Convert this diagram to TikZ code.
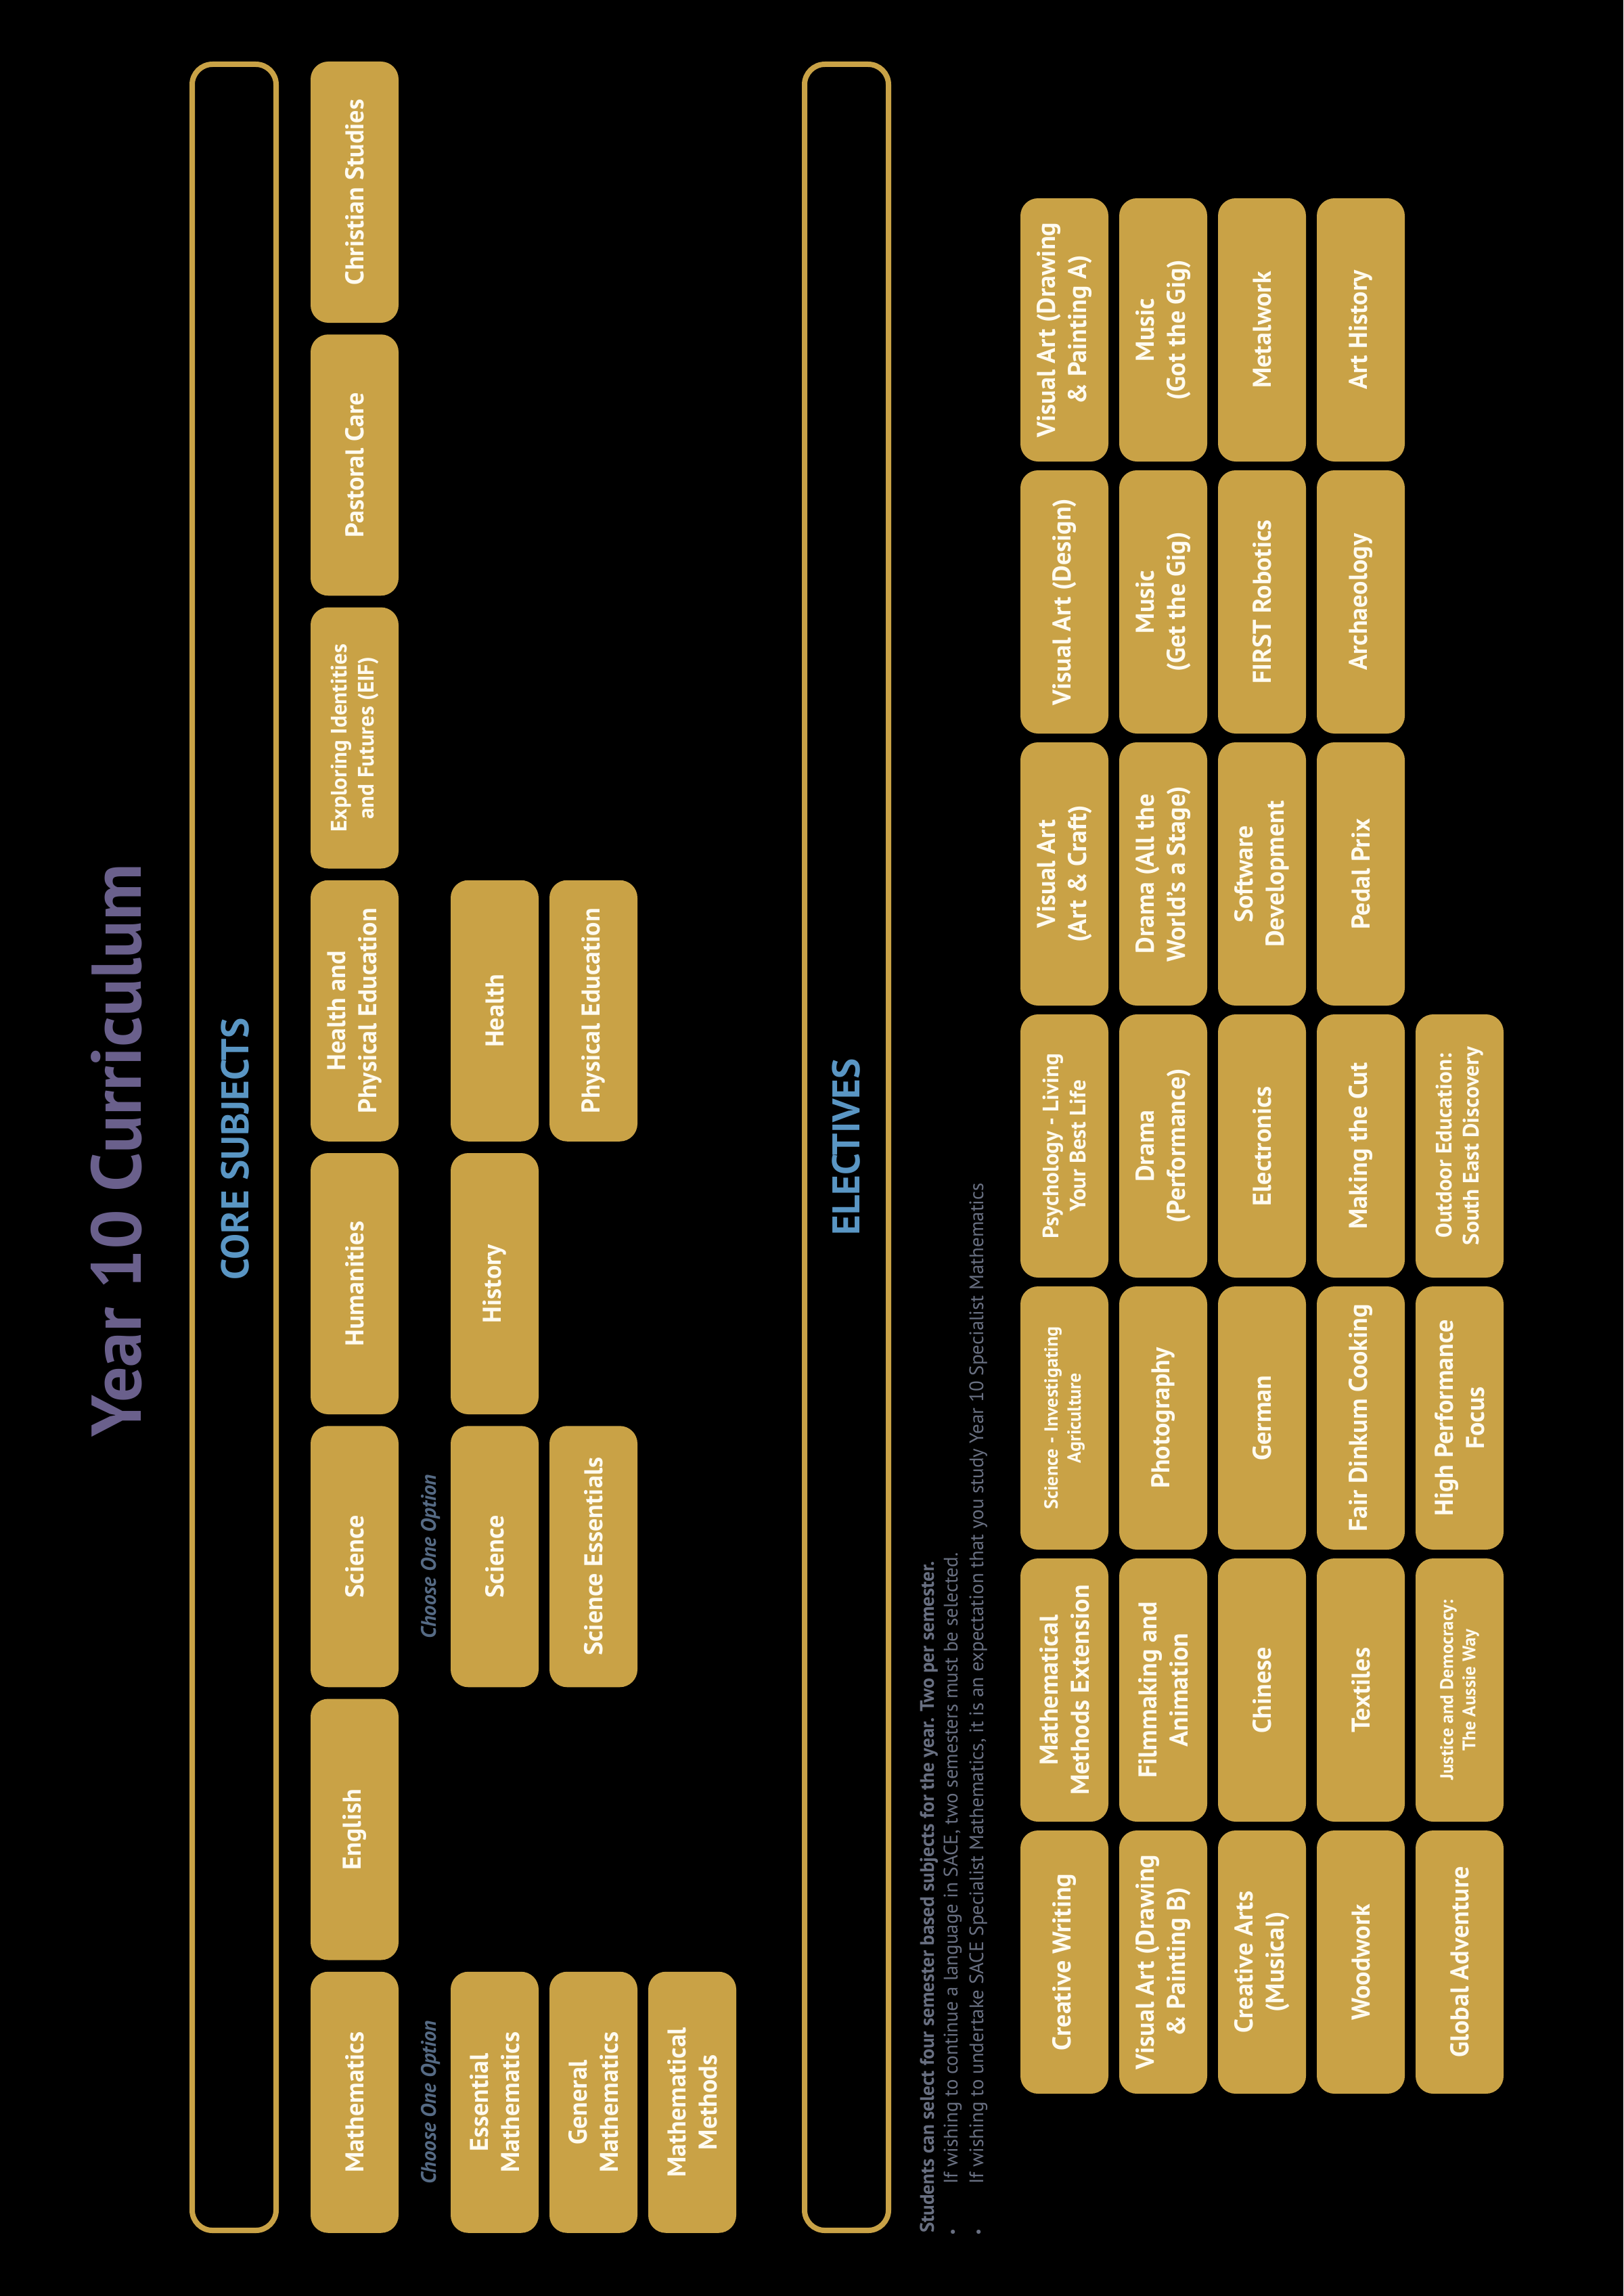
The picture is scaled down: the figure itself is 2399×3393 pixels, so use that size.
\documentclass[tikz,border=0pt]{standalone}
\usepackage{fontspec}
\usepackage{graphicx}
\setmainfont{PT Sans}
\definecolor{gold}{RGB}{201,162,70}
\definecolor{cream}{RGB}{255,251,240}
\definecolor{titlecol}{RGB}{106,96,140}
\definecolor{headblue}{RGB}{90,150,196}
\definecolor{optcol}{RGB}{86,107,133}
\definecolor{notecol}{RGB}{105,112,130}
\newcommand{\fsz}[2]{\fontsize{#1}{#2}\selectfont}
\tikzset{
  cbox/.style={rectangle, rounded corners=26pt, fill=gold, text=cream, rotate=90,
    minimum width=386pt, minimum height=130pt, inner sep=0pt, align=center,
    font=\bfseries\fsz{38}{46}},
  ebox/.style={cbox, minimum width=389pt},
  smallA/.style={font=\bfseries\fsz{33}{40}},
  smallB/.style={font=\bfseries\fsz{28}{34}},
  smallC/.style={font=\bfseries\fsz{27}{33}},
  framebox/.style={rectangle, draw=gold, line width=8pt, rounded corners=30pt,
    minimum width=124pt, minimum height=3201pt, inner sep=0pt},
  heading/.style={rotate=90, anchor=base, text=headblue, inner sep=0pt, font=\bfseries\fsz{57}{66}},
  optlabel/.style={rotate=90, anchor=base, text=optcol, inner sep=0pt, font=\bfseries\itshape\fsz{31}{36}},
  note/.style={rotate=90, anchor=base west, text=notecol, inner sep=0pt, font=\fsz{29}{34}},
  bullet/.style={rotate=90, anchor=base, text=notecol, inner sep=0pt, font=\fsz{22}{26}},
}
\begin{document}
\begin{tikzpicture}[x=1pt,y=1pt]
\fill[black] (0,0) rectangle (2399,-3393);
\useasboundingbox (0,0) rectangle (2399,-3393);

% title
\node[rotate=90, anchor=base, text=titlecol, inner sep=0pt, font=\bfseries\fsz{104}{116}] (title) at (208,-1700) {Year 10 Curriculum};

% frames
\node[framebox] (coreframe) at (346,-1695.5) {};
\node[heading] (corehead) at (367,-1698) {CORE SUBJECTS};
\node[framebox] (elecframe) at (1251,-1695.5) {};
\node[heading] (elechead) at (1270,-1695) {ELECTIVES};

% core row 1
\node[cbox] (cs)   at (524,-284)     {Christian Studies};
\node[cbox] (pc)   at (524,-687.25)  {Pastoral Care};
\node[cbox,smallA] (eif) at (524,-1090.5) {Exploring Identities\\and Futures (EIF)};
\node[cbox] (hpe)  at (524,-1493.75) {Health and\\Physical Education};
\node[cbox] (hum)  at (524,-1897)    {Humanities};
\node[cbox] (sci)  at (524,-2300.25) {Science};
\node[cbox] (eng)  at (524,-2703.5)  {English};
\node[cbox] (math) at (524,-3106.75) {Mathematics};

% choose one option labels
\node[optlabel] (optmath) at (644,-3106.75) {Choose One Option};
\node[optlabel] (optsci)  at (644,-2300.25) {Choose One Option};

% core row 2
\node[cbox] (essm)   at (731,-3106.75) {Essential\\Mathematics};
\node[cbox] (sci2)   at (731,-2300.25) {Science};
\node[cbox] (hist)   at (731,-1897)    {History};
\node[cbox] (health) at (731,-1493.75) {Health};
% core row 3
\node[cbox] (genm) at (877,-3106.75) {General\\Mathematics};
\node[cbox] (scie) at (877,-2300.25) {Science Essentials};
\node[cbox] (pe)   at (877,-1493.75) {Physical Education};
% core row 4
\node[cbox] (mm) at (1023,-3106.75) {Mathematical\\Methods};

% notes
\node[note, font=\bfseries\fsz{29}{34}] (note1) at (1380,-3300) {Students can select four semester based subjects for the year. Two per semester.};
\node[bullet] (b1) at (1415,-3298) {•};
\node[note] (note2) at (1415,-3228) {If wishing to continue a language in SACE, two semesters must be selected.};
\node[bullet] (b2) at (1453,-3298) {•};
\node[note] (note3) at (1453,-3228) {If wishing to undertake SACE Specialist Mathematics, it is an expectation that you study Year 10 Specialist Mathematics};

% electives column 0
\node[ebox] (e00) at (1573,-487.5)  {Visual Art (Drawing\\\& Painting A)};
\node[ebox] (e01) at (1573,-889.5)  {Visual Art (Design)};
\node[ebox] (e02) at (1573,-1291.5) {Visual Art\\(Art \& Craft)};
\node[ebox,smallA] (e03) at (1573,-1693.5) {Psychology - Living\\Your Best Life};
\node[ebox,smallB] (e04) at (1573,-2095.5) {Science - Investigating\\Agriculture};
\node[ebox] (e05) at (1573,-2497.5) {Mathematical\\Methods Extension};
\node[ebox] (e06) at (1573,-2899.5) {Creative Writing};
% column 1
\node[ebox] (e10) at (1719,-487.5)  {Music\\(Got the Gig)};
\node[ebox] (e11) at (1719,-889.5)  {Music\\(Get the Gig)};
\node[ebox] (e12) at (1719,-1291.5) {Drama (All the\\World’s a Stage)};
\node[ebox] (e13) at (1719,-1693.5) {Drama\\(Performance)};
\node[ebox] (e14) at (1719,-2095.5) {Photography};
\node[ebox] (e15) at (1719,-2497.5) {Filmmaking and\\Animation};
\node[ebox] (e16) at (1719,-2899.5) {Visual Art (Drawing\\\& Painting B)};
% column 2
\node[ebox] (e20) at (1865,-487.5)  {Metalwork};
\node[ebox] (e21) at (1865,-889.5)  {FIRST Robotics};
\node[ebox] (e22) at (1865,-1291.5) {Software\\Development};
\node[ebox] (e23) at (1865,-1693.5) {Electronics};
\node[ebox] (e24) at (1865,-2095.5) {German};
\node[ebox] (e25) at (1865,-2497.5) {Chinese};
\node[ebox] (e26) at (1865,-2899.5) {Creative Arts\\(Musical)};
% column 3
\node[ebox] (e30) at (2011,-487.5)  {Art History};
\node[ebox] (e31) at (2011,-889.5)  {Archaeology};
\node[ebox] (e32) at (2011,-1291.5) {Pedal Prix};
\node[ebox] (e33) at (2011,-1693.5) {Making the Cut};
\node[ebox] (e34) at (2011,-2095.5) {Fair Dinkum Cooking};
\node[ebox] (e35) at (2011,-2497.5) {Textiles};
\node[ebox] (e36) at (2011,-2899.5) {Woodwork};
% column 4
\node[ebox,smallA] (e43) at (2157,-1693.5) {Outdoor Education:\\South East Discovery};
\node[ebox] (e44) at (2157,-2095.5) {High Performance\\Focus};
\node[ebox,smallC] (e45) at (2157,-2497.5) {Justice and Democracy:\\The Aussie Way};
\node[ebox] (e46) at (2157,-2899.5) {Global Adventure};
\end{tikzpicture}
\end{document}
